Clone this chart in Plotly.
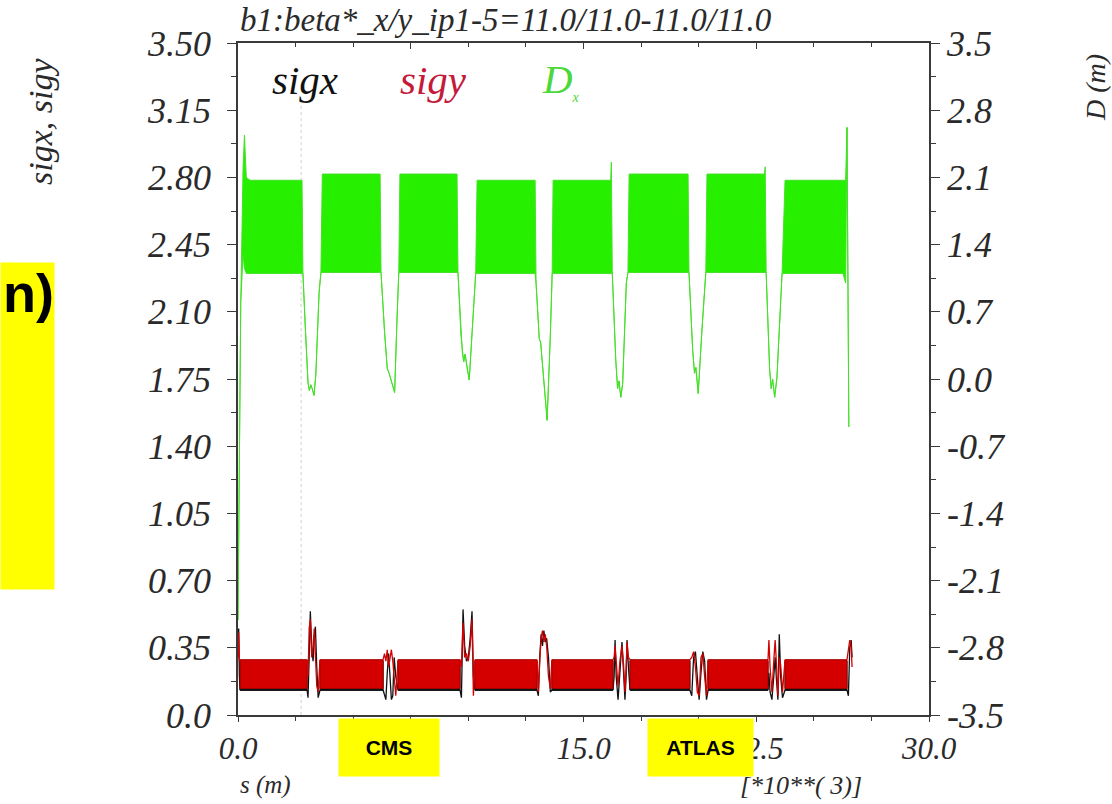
import plotly.graph_objects as go

# ---------------- data ----------------
S_RANGE = [0, 30]
X_TICKS = [0, 7.5, 15, 22.5, 30]
X_TICKTEXT = ["0.0", "", "15.0", "22.5", "30.0"]   # 7.5 is hidden under the CMS label
Y_TICKS = [0.0, 0.35, 0.70, 1.05, 1.40, 1.75, 2.10, 2.45, 2.80, 3.15, 3.50]
Y_TICKTEXT = ["0.0", "0.35", "0.70", "1.05", "1.40", "1.75", "2.10", "2.45", "2.80", "3.15", "3.50"]
Y2_TICKS = [-3.5, -2.8, -2.1, -1.4, -0.7, 0.0, 0.7, 1.4, 2.1, 2.8, 3.5]
Y2_TICKTEXT = ["-3.5", "-2.8", "-2.1", "-1.4", "-0.7", "0.0", "0.7", "1.4", "2.1", "2.8", "3.5"]

# arcs: sigma bands (km, m)
ARC_START = [0.09, 3.56, 6.95, 10.29, 13.63, 17.02, 20.41, 23.75]
ARC_END = [3.00, 6.30, 9.64, 12.98, 16.28, 19.62, 23.01, 26.44]
SIGX_ARC_HI = [0.282, 0.282, 0.282, 0.282, 0.282, 0.282, 0.282, 0.282]
SIGX_ARC_LO = [0.128, 0.128, 0.128, 0.128, 0.128, 0.128, 0.128, 0.128]
SIGY_ARC_HI = [0.288, 0.288, 0.288, 0.288, 0.288, 0.288, 0.288, 0.288]
SIGY_ARC_LO = [0.138, 0.138, 0.138, 0.138, 0.138, 0.138, 0.138, 0.138]

# insertion regions: s, sigx, sigy
IR_S = [
    [0.00, 0.03, 0.06, 0.09],
    [3.00, 3.04, 3.09, 3.14, 3.20, 3.26, 3.31, 3.36, 3.42, 3.48, 3.56],
    [6.30, 6.36, 6.42, 6.48, 6.54, 6.60, 6.66, 6.72, 6.78, 6.85, 6.95],
    [9.64, 9.70, 9.77, 9.84, 9.92, 10.00, 10.08, 10.16, 10.22, 10.29],
    [12.98, 13.04, 13.10, 13.16, 13.22, 13.28, 13.34, 13.40, 13.48, 13.56, 13.63],
    [16.28, 16.33, 16.37, 16.42, 16.50, 16.58, 16.67, 16.74, 16.80, 16.85, 16.89, 16.95, 17.02],
    [19.62, 19.70, 19.78, 19.86, 19.94, 20.02, 20.10, 20.18, 20.26, 20.34, 20.41],
    [23.01, 23.05, 23.10, 23.18, 23.26, 23.32, 23.38, 23.44, 23.50, 23.56, 23.64, 23.75],
    [26.44, 26.50, 26.56, 26.62, 26.66],
]
IR_SIGX = [
    [0.40, 0.45, 0.20, 0.13],
    [0.13, 0.09, 0.30, 0.54, 0.35, 0.28, 0.40, 0.46, 0.25, 0.09, 0.13],
    [0.13, 0.10, 0.08, 0.22, 0.32, 0.20, 0.08, 0.10, 0.30, 0.20, 0.13],
    [0.13, 0.09, 0.55, 0.36, 0.28, 0.30, 0.40, 0.54, 0.20, 0.13],
    [0.13, 0.10, 0.30, 0.42, 0.36, 0.44, 0.38, 0.40, 0.30, 0.12, 0.13],
    [0.13, 0.20, 0.39, 0.20, 0.08, 0.25, 0.38, 0.22, 0.08, 0.20, 0.39, 0.25, 0.13],
    [0.13, 0.10, 0.30, 0.33, 0.20, 0.08, 0.22, 0.33, 0.28, 0.08, 0.13],
    [0.13, 0.22, 0.12, 0.08, 0.20, 0.30, 0.18, 0.08, 0.42, 0.20, 0.09, 0.13],
    [0.13, 0.10, 0.35, 0.39, 0.30],
]
IR_SIGY = [
    [0.30, 0.43, 0.28, 0.288],
    [0.288, 0.20, 0.45, 0.50, 0.30, 0.36, 0.45, 0.30, 0.15, 0.12, 0.288],
    [0.288, 0.32, 0.28, 0.34, 0.25, 0.30, 0.34, 0.28, 0.18, 0.10, 0.288],
    [0.288, 0.25, 0.48, 0.30, 0.32, 0.28, 0.36, 0.50, 0.10, 0.288],
    [0.288, 0.12, 0.28, 0.40, 0.44, 0.38, 0.42, 0.36, 0.20, 0.14, 0.288],
    [0.288, 0.30, 0.36, 0.28, 0.15, 0.28, 0.36, 0.26, 0.12, 0.24, 0.38, 0.30, 0.288],
    [0.288, 0.30, 0.33, 0.25, 0.12, 0.10, 0.30, 0.32, 0.20, 0.10, 0.288],
    [0.288, 0.39, 0.25, 0.12, 0.28, 0.39, 0.26, 0.10, 0.30, 0.26, 0.12, 0.288],
    [0.288, 0.33, 0.39, 0.36, 0.25],
]

# dispersion: upper / lower envelope of the fast betatron oscillation (m)
D_S = [0.00, 0.12, 0.22, 0.28, 0.36, 0.52, 2.78, 2.82, 2.92, 3.04, 3.10, 3.16, 3.22, 3.30, 3.38,
       3.52, 3.60, 3.66, 6.17, 6.21, 6.36, 6.48, 6.56, 6.64, 6.72, 6.80, 6.90, 6.98, 7.03,
       9.51, 9.55, 9.68, 9.74, 9.80, 9.86, 9.94, 10.04, 10.18, 10.32, 10.38,
       12.90, 12.94, 13.02, 13.08, 13.14, 13.42, 13.56, 13.64, 13.68,
       16.18, 16.21, 16.25, 16.40, 16.48, 16.54, 16.62, 16.70, 16.86, 16.93, 16.98,
       19.54, 19.58, 19.74, 19.82, 19.88, 19.98, 20.14, 20.31, 20.36,
       22.86, 22.89, 22.93, 23.08, 23.15, 23.21, 23.30, 23.40, 23.62, 23.75,
       26.27, 26.38, 26.44, 26.52]
D_HI = [-2.51, 0.80, 2.20, 2.54, 2.10, 2.07, 2.07, 1.10, 0.55, -0.04, -0.12, -0.06, -0.10, -0.17, 0.05,
        0.90, 1.11, 2.135, 2.135, 1.11, 0.50, 0.11, 0.06, 0.00, -0.06, -0.14, 0.60, 1.11, 2.135,
        2.135, 1.11, 0.45, 0.27, 0.18, 0.26, 0.12, -0.01, 0.55, 1.10, 2.07,
        2.07, 1.00, 0.60, 0.42, 0.38, -0.43, 0.45, 1.10, 2.07,
        2.07, 2.26, 1.10, 0.20, -0.10, -0.02, -0.19, -0.05, 1.00, 1.11, 2.135,
        2.135, 1.11, 0.30, 0.06, 0.12, -0.15, 0.50, 1.11, 2.135,
        2.135, 2.21, 1.11, 0.10, -0.10, 0.00, -0.19, 0.02, 1.10, 2.07,
        2.07, 2.07, 2.62, -0.50]
D_LO = [-2.51, 0.80, 1.30, 1.15, 1.10, 1.10, 1.10, 1.10, 0.55, -0.04, -0.12, -0.06, -0.10, -0.17, 0.05,
        0.90, 1.11, 1.11, 1.11, 1.11, 0.50, 0.11, 0.06, 0.00, -0.06, -0.14, 0.60, 1.11, 1.11,
        1.11, 1.11, 0.45, 0.27, 0.18, 0.26, 0.12, -0.01, 0.55, 1.10, 1.10,
        1.10, 1.00, 0.60, 0.42, 0.38, -0.43, 0.45, 1.10, 1.10,
        1.10, 1.10, 1.10, 0.20, -0.10, -0.02, -0.19, -0.05, 1.00, 1.11, 1.11,
        1.11, 1.11, 0.30, 0.06, 0.12, -0.15, 0.50, 1.11, 1.11,
        1.11, 1.11, 1.11, 0.10, -0.10, 0.00, -0.19, 0.02, 1.10, 1.10,
        1.10, 1.00, 2.62, -0.50]

IP_MARK_S = [2.74, 2.74]
IP_MARK_Y = [0.0, 3.20]

# ---------------- styling ----------------
SERIF = "Liberation Serif"
C_BLACK = "#111111"
C_RED = "#d40000"
C_RED_EDGE = "#a00000"
C_GREEN = "#26f000"
C_GREEN_LINE = "#45e028"
AXC = "#3a3a3a"
TICKC = "#2a2a2a"
W, H = 1112, 804
L, R, T, B = 238, 183, 43, 89
PW, PH = W - L - R, H - T - B


def px_x(x):
    return (x - L) / PW


def px_y(y):
    return (H - B - y) / PH


def band_polygon(starts, ends, hi, lo):
    xs, ys = [], []
    for s0, s1, h, l in zip(starts, ends, hi, lo):
        xs += [s0, s1, s1, s0, s0, None]
        ys += [h, h, l, l, h, None]
    return xs, ys


fig = go.Figure()

# IP marker line
fig.add_trace(go.Scatter(x=IP_MARK_S, y=IP_MARK_Y, mode="lines",
                         line=dict(color="#d0d0d0", width=1, dash="dot"),
                         hoverinfo="skip", showlegend=False))

# dispersion (right axis)
fig.add_trace(go.Scatter(x=D_S, y=D_LO, yaxis="y2", mode="lines",
                         line=dict(color=C_GREEN_LINE, width=1), showlegend=False, name="D lo"))
fig.add_trace(go.Scatter(x=D_S, y=D_HI, yaxis="y2", mode="lines", fill="tonexty",
                         fillcolor=C_GREEN, line=dict(color=C_GREEN_LINE, width=1),
                         showlegend=False, name="D"))

# sigx band (black) and IR lines
bx, by = band_polygon(ARC_START, ARC_END, SIGX_ARC_HI, SIGX_ARC_LO)
fig.add_trace(go.Scatter(x=bx, y=by, mode="lines", fill="toself", fillcolor=C_BLACK,
                         line=dict(color=C_BLACK, width=1), showlegend=False, name="sigx"))
for s, v in zip(IR_S, IR_SIGX):
    fig.add_trace(go.Scatter(x=s, y=v, mode="lines", line=dict(color=C_BLACK, width=1.3),
                             showlegend=False, name="sigx"))

# sigy band (red) and IR lines
bx, by = band_polygon(ARC_START, ARC_END, SIGY_ARC_HI, SIGY_ARC_LO)
fig.add_trace(go.Scatter(x=bx, y=by, mode="lines", fill="toself", fillcolor=C_RED,
                         line=dict(color=C_RED_EDGE, width=1), showlegend=False, name="sigy"))
for s, v in zip(IR_S, IR_SIGY):
    fig.add_trace(go.Scatter(x=s, y=v, mode="lines", line=dict(color=C_RED, width=1.3),
                             showlegend=False, name="sigy"))

# top mirror axis for inward ticks
fig.add_trace(go.Scatter(x=[None], y=[None], xaxis="x2", showlegend=False))

ytickfont = dict(family=SERIF, size=36, color=TICKC, style="italic")
xtickfont = dict(family=SERIF, size=31, color=TICKC, style="italic")

fig.update_layout(
    width=W, height=H, autosize=False,
    margin=dict(l=L, r=R, t=T, b=B, pad=0),
    paper_bgcolor="white", plot_bgcolor="white",
    showlegend=False,
    xaxis=dict(range=S_RANGE, tickmode="array", tickvals=X_TICKS, ticktext=X_TICKTEXT,
               showgrid=False, zeroline=False, showline=True, linecolor=AXC, linewidth=1.5,
               ticks="outside", ticklen=5, tickcolor=AXC, tickfont=xtickfont,
               minor=dict(dtick=2.5, tick0=0, ticks="outside", ticklen=4, tickcolor=AXC),
               ticklabelstandoff=0),
    xaxis2=dict(range=S_RANGE, overlaying="x", side="top", showticklabels=False,
                showgrid=False, zeroline=False, showline=True, linecolor=AXC, linewidth=1.5,
                tickmode="array", tickvals=X_TICKS, ticks="inside", ticklen=6, tickcolor=AXC,
                minor=dict(dtick=2.5, tick0=0, ticks="inside", ticklen=4, tickcolor=AXC)),
    yaxis=dict(range=[0, 3.5], tickmode="array", tickvals=Y_TICKS, ticktext=Y_TICKTEXT,
               showgrid=False, zeroline=False, showline=True, linecolor=AXC, linewidth=1.5,
               ticks="outside", ticklen=9, tickcolor=AXC, tickfont=ytickfont,
               minor=dict(dtick=0.175, tick0=0, ticks="outside", ticklen=5, tickcolor=AXC),
               ticklabelstandoff=9),
    yaxis2=dict(range=[-3.5, 3.5], overlaying="y", side="right", tickmode="array",
                tickvals=Y2_TICKS, ticktext=Y2_TICKTEXT,
                showgrid=False, zeroline=False, showline=True, linecolor=AXC, linewidth=1.5,
                ticks="outside", ticklen=9, tickcolor=AXC, tickfont=ytickfont,
                minor=dict(dtick=0.35, tick0=0, ticks="outside", ticklen=5, tickcolor=AXC),
                ticklabelstandoff=0),
)

ann = []
ital = lambda size, color=TICKC: dict(family=SERIF, size=size, color=color, style="italic")
ann.append(dict(text="b1:beta*_x/y_ip1-5=11.0/11.0-11.0/11.0", x=px_x(238), y=px_y(20),
                xanchor="left", yanchor="middle", font=ital(33)))
ann.append(dict(text="sigx", x=px_x(270), y=px_y(80), xanchor="left", yanchor="middle",
                font=ital(41, "#111111")))
ann.append(dict(text="sigy", x=px_x(398), y=px_y(80), xanchor="left", yanchor="middle",
                font=ital(41, "#c41a3c")))
ann.append(dict(text="D<sub><span style='font-size:14px'>x</span></sub>", x=px_x(540), y=px_y(80),
                xanchor="left", yanchor="middle", font=ital(41, "#4cd83a")))
ann.append(dict(text="sigx, sigy", x=px_x(40), y=px_y(122), xanchor="center", yanchor="middle",
                textangle=-90, font=ital(34)))
ann.append(dict(text="D (m)", x=px_x(1096), y=px_y(88), xanchor="center", yanchor="middle",
                textangle=-90, font=ital(28)))
ann.append(dict(text="s (m)", x=px_x(238), y=px_y(785), xanchor="left", yanchor="middle",
                font=ital(25)))
ann.append(dict(text="[*10**( 3)]", x=px_x(738), y=px_y(785), xanchor="left", yanchor="middle",
                font=ital(26)))

# yellow slide labels
box = dict(bgcolor="#ffff00", borderpad=0, showarrow=False, xref="paper", yref="paper")
ann.append(dict(text="<b>CMS</b>", x=px_x(338), y=px_y(718), xanchor="left", yanchor="top",
                width=100, height=57, align="center", valign="middle",
                font=dict(family="Liberation Sans", size=21, color="black"), **box))
ann.append(dict(text="<b>ATLAS</b>", x=px_x(647), y=px_y(718), xanchor="left", yanchor="top",
                width=105, height=57, align="center", valign="middle",
                font=dict(family="Liberation Sans", size=21, color="black"), **box))
ann.append(dict(text="<b>n)</b>", x=px_x(0), y=px_y(262), xanchor="left", yanchor="top",
                width=53, height=326, align="right", valign="top",
                font=dict(family="Liberation Sans", size=54, color="black"), **box))

for a in ann:
    a.setdefault("xref", "paper")
    a.setdefault("yref", "paper")
    a.setdefault("showarrow", False)
fig.update_layout(annotations=ann)

fig.write_html("out.html", config={"displayModeBar": False},
               post_script="document.body.style.margin='0';document.body.style.padding='0';")
